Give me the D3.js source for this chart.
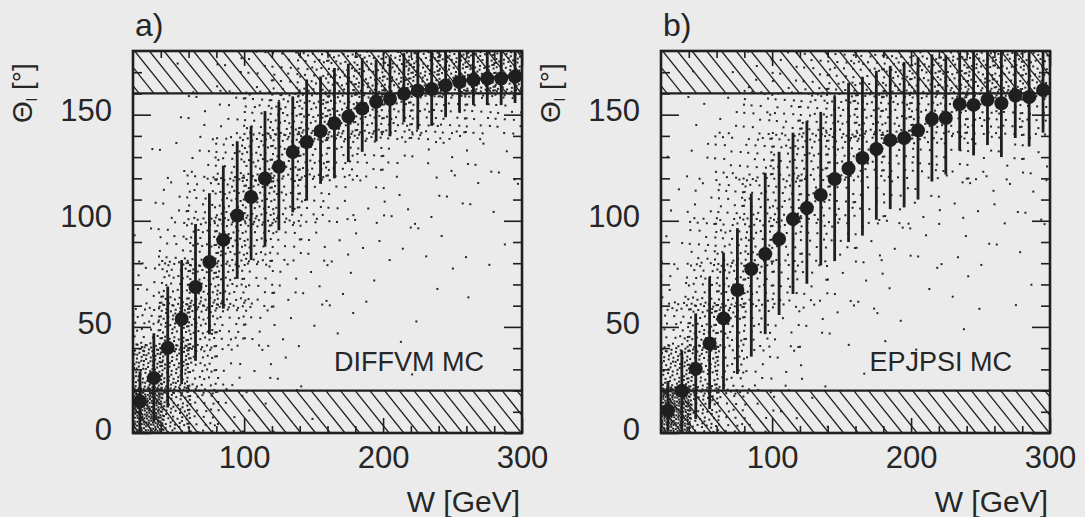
<!DOCTYPE html>
<html>
<head>
<meta charset="utf-8">
<script src="https://cdn.jsdelivr.net/npm/d3@7"></script>
<style>
  body { margin: 0; background: #ebebeb; }
  svg { display: block; font-family: "Liberation Sans", Arial, sans-serif; }
</style>
</head>
<body>
<div id="chart"></div>
<script>
//W bin centres of the profile points (GeV), same in both panels
var wBins = [25, 35, 45, 55, 65, 75, 85, 95, 105, 115, 125, 135, 145, 155,
             165, 175, 185, 195, 205, 215, 225, 235, 245, 255, 265, 275, 285, 295];

//panel a) DIFFVM MC : mean polar angle and the ends of the spread bar
var meanDiffvm = [14.8, 25.9, 40.2, 53.7, 68.8, 80.6, 91, 102.5, 111.2, 119.9, 125.4, 132.4, 137.1, 142.3,
                  145.9, 149.1, 152.9, 156.1, 157.4, 159.8, 161.3, 162.1, 163.8, 165.4, 166.4, 167, 167, 168];
var lowDiffvm = [0.5, 5, 12, 23, 34, 46.5, 58.6, 72.6, 81.5, 87.8, 95.5, 104, 109.5, 117.4,
                 120, 127.7, 132.5, 137.4, 139.8, 146.4, 143, 144.7, 148.8, 151, 154.5, 154.5, 154.5, 155.5];
var highDiffvm = [29, 47, 69, 81.5, 98.5, 113, 126, 137.5, 144.7, 151.7, 156, 158.6, 166.6, 168,
                  172, 174, 176.7, 176, 177, 179, 180, 180, 180, 180, 180, 180, 180, 180];

//panel b) EPJPSI MC
var meanEpjpsi = [10.6, 19.9, 30.2, 42.2, 54, 67.4, 77.3, 84.4, 91.4, 100.8, 106, 112.2, 119.7, 124.6,
                  129.6, 133.8, 138, 139, 142.6, 148, 148.4, 155, 154.6, 157, 155.4, 159, 158.3, 161.6];
var lowEpjpsi = [0.7, 0.7, 6.6, 11.3, 20.4, 27.8, 36, 46.6, 55.6, 65.5, 70.3, 79, 81, 90,
                 93, 100.5, 105.5, 106.3, 110, 118.5, 121.8, 133, 130.8, 135.7, 130, 139, 135, 141.5];
var highEpjpsi = [24.5, 39, 56.4, 73.6, 85, 96.5, 112.8, 122.6, 132.5, 141.5, 147, 151.3, 158.7, 165,
                  167.6, 170.7, 173, 174.8, 177, 178.4, 178, 179, 180, 180, 180, 180, 180, 180];

//event density, counted in 20 GeV x 20 deg cells
//cellW = left edge of each column, cellTheta = lower edge of each row
var cellW = [20, 40, 60, 80, 100, 120, 140, 160, 180, 200, 220, 240, 260, 280];
var cellTheta = [0, 20, 40, 60, 80, 100, 120, 140, 160];
var countsDiffvm = [
  [230, 80, 30, 8, 3, 1, 1, 0, 0, 0, 0, 0, 0, 0],
  [110, 90, 40, 12, 5, 2, 1, 1, 0, 1, 0, 0, 0, 0],
  [35, 75, 55, 25, 10, 4, 2, 2, 1, 1, 1, 0, 0, 0],
  [12, 40, 55, 40, 18, 8, 4, 3, 2, 1, 1, 1, 1, 0],
  [4, 18, 40, 50, 35, 16, 8, 5, 3, 2, 2, 2, 1, 1],
  [2, 8, 22, 45, 50, 35, 18, 10, 6, 4, 3, 3, 2, 2],
  [1, 4, 10, 25, 45, 50, 40, 28, 16, 10, 6, 5, 4, 4],
  [0, 2, 5, 12, 25, 42, 55, 55, 50, 40, 32, 25, 20, 18],
  [0, 1, 2, 5, 10, 20, 35, 50, 60, 70, 75, 80, 80, 75]
];
var countsEpjpsi = [
  [220, 70, 25, 8, 3, 1, 1, 0, 0, 0, 0, 0, 0, 0],
  [90, 75, 35, 12, 5, 2, 1, 1, 1, 0, 0, 0, 0, 0],
  [30, 55, 40, 22, 10, 5, 3, 2, 1, 1, 1, 1, 0, 0],
  [10, 32, 38, 30, 18, 10, 5, 4, 2, 2, 1, 1, 1, 1],
  [4, 18, 30, 32, 28, 18, 10, 7, 4, 3, 3, 2, 2, 2],
  [2, 10, 20, 28, 30, 28, 20, 14, 9, 6, 5, 4, 3, 3],
  [1, 6, 14, 24, 30, 34, 32, 28, 22, 16, 12, 9, 8, 7],
  [0, 3, 8, 15, 24, 30, 36, 40, 40, 38, 34, 30, 28, 26],
  [0, 1, 3, 6, 10, 15, 25, 33, 42, 48, 52, 55, 55, 52]
];

//axes
var wDomain = [20, 300];
var thetaDomain = [0, 180];
var xTickLabels = [100, 200, 300];
var xMinorTicks = [40, 60, 80, 120, 140, 160, 180, 220, 240, 260, 280];
var yTickLabels = [0, 50, 100, 150];
var yMinorTicks = [10, 20, 30, 40, 60, 70, 80, 90, 110, 120, 130, 140, 160, 170];

//hatched (cut away) angular regions
var cutBands = [[0, 20], [160, 180]];

var panelLabels = ["a)", "b)"];
var generatorNames = ["DIFFVM MC", "EPJPSI MC"];

//svg area and the two plot frames
var svgWidth = 1085;
var svgHeight = 517;
var panelLeft = [133, 661];
var plotTop = 51;
var plotWidth = 389;
var plotHeight = 382;
var ink = "#1f1f1f";

var svg = d3.select("#chart").append("svg")
    .attr("width", svgWidth)
    .attr("height", svgHeight);

var panels = [
    {mean: meanDiffvm, low: lowDiffvm, high: highDiffvm, counts: countsDiffvm},
    {mean: meanEpjpsi, low: lowEpjpsi, high: highEpjpsi, counts: countsEpjpsi}
];

//spread the counted events of one cell over the cell (quasi regular pattern)
function cellDots(n, cellIndex) {
    var dots = [];
    var seedU = (cellIndex * 0.6180339887) % 1;
    var seedV = (cellIndex * 0.4142135624 + 0.3) % 1;
    for (var k = 1; k <= n; k++) {
        dots.push({
            u: (seedU + k * 0.7548776662) % 1,
            v: (seedV + k * 0.5698402910) % 1
        });
    }
    return dots;
}

function drawPanel(p, i) {
    var left = panelLeft[i];
    var xScale = d3.scaleLinear().domain(wDomain).range([left, left + plotWidth]);
    var yScale = d3.scaleLinear().domain(thetaDomain).range([plotTop + plotHeight, plotTop]);

    var g = svg.append("g").attr("class", "panel" + i);

    //clip everything to the frame
    svg.append("clipPath").attr("id", "frame" + i)
        .append("rect")
        .attr("x", left).attr("y", plotTop)
        .attr("width", plotWidth).attr("height", plotHeight);

    var inner = g.append("g").attr("clip-path", `url(#frame${i})`);

    //hatched bands
    cutBands.forEach(function(band, b) {
        var y0 = yScale(band[1]), y1 = yScale(band[0]);
        var h = y1 - y0;
        var clipId = `band${i}_${b}`;
        svg.append("clipPath").attr("id", clipId)
            .append("rect")
            .attr("x", left).attr("y", y0)
            .attr("width", plotWidth).attr("height", h);
        var starts = d3.range(left - h, left + plotWidth + 15, 14.7);
        inner.append("g").attr("clip-path", `url(#${clipId})`)
            .selectAll("line")
            .data(starts)
            .enter().append("line")
            .attr("x1", d => d).attr("y1", y0)
            .attr("x2", d => d + h * 0.8).attr("y2", y1)
            .attr("stroke", ink).attr("stroke-width", 1.3);
        //boundary of the band
        var edge = band[0] === thetaDomain[0] ? band[1] : band[0];
        inner.append("line")
            .attr("x1", left).attr("x2", left + plotWidth)
            .attr("y1", yScale(edge)).attr("y2", yScale(edge))
            .attr("stroke", ink).attr("stroke-width", 2.2);
    });

    //scattered events
    var dots = [];
    p.counts.forEach(function(row, r) {
        row.forEach(function(n, c) {
            var wLo = cellW[c], tLo = cellTheta[r];
            cellDots(n, r * 14 + c + i * 200).forEach(function(d) {
                dots.push({w: wLo + (d.u * 1.16 - 0.08) * 20, t: tLo + (d.v * 1.16 - 0.08) * 20});
            });
        });
    });
    inner.append("g").selectAll("rect")
        .data(dots)
        .enter().append("rect")
        .attr("x", d => xScale(d.w) - 1)
        .attr("y", d => yScale(d.t) - 1)
        .attr("width", 2).attr("height", 2)
        .attr("fill", "#262626");

    //spread bars
    inner.append("g").selectAll("line")
        .data(wBins)
        .enter().append("line")
        .attr("x1", d => xScale(d)).attr("x2", d => xScale(d))
        .attr("y1", (d, j) => yScale(p.low[j]))
        .attr("y2", (d, j) => yScale(p.high[j]))
        .attr("stroke", ink).attr("stroke-width", 2.8);

    //mean points
    inner.append("g").selectAll("circle")
        .data(wBins)
        .enter().append("circle")
        .attr("cx", d => xScale(d))
        .attr("cy", (d, j) => yScale(p.mean[j]))
        .attr("r", 7)
        .attr("fill", ink);

    //axes, ticks pointing into the frame on all four sides
    var bottom = plotTop + plotHeight, right = left + plotWidth;
    var axes = [
        {ax: d3.axisBottom(xScale).tickValues(xTickLabels).tickSize(-15).tickPadding(13), at: `translate(0,${bottom})`, labels: true},
        {ax: d3.axisBottom(xScale).tickValues(xMinorTicks).tickSize(-7), at: `translate(0,${bottom})`},
        {ax: d3.axisTop(xScale).tickValues(xTickLabels).tickSize(-15), at: `translate(0,${plotTop})`},
        {ax: d3.axisTop(xScale).tickValues(xMinorTicks).tickSize(-7), at: `translate(0,${plotTop})`},
        {ax: d3.axisLeft(yScale).tickValues(yTickLabels).tickSize(-18).tickPadding(21), at: `translate(${left},0)`, labels: true},
        {ax: d3.axisLeft(yScale).tickValues(yMinorTicks).tickSize(-9), at: `translate(${left},0)`},
        {ax: d3.axisRight(yScale).tickValues(yTickLabels).tickSize(-18), at: `translate(${right},0)`},
        {ax: d3.axisRight(yScale).tickValues(yMinorTicks).tickSize(-9), at: `translate(${right},0)`}
    ];
    axes.forEach(function(a) {
        var ag = g.append("g").attr("transform", a.at).call(a.ax);
        ag.select(".domain").remove();
        ag.selectAll("line").attr("stroke", ink).attr("stroke-width", 1.6);
        if (a.labels) {
            ag.selectAll("text").attr("fill", "#262626").style("font-size", "31px")
                .style("font-family", '"Liberation Sans", Arial, sans-serif');
        } else {
            ag.selectAll("text").remove();
        }
    });
    //nudge y labels a little upward
    g.selectAll("text").filter(function() { return this.getAttribute("dy") === "0.32em"; })
        .attr("dy", "0.2em");

    //frame
    g.append("rect")
        .attr("x", left).attr("y", plotTop)
        .attr("width", plotWidth).attr("height", plotHeight)
        .attr("fill", "none").attr("stroke", ink).attr("stroke-width", 2.6);

    //texts
    g.append("text")
        .attr("x", left + 2).attr("y", 36)
        .style("font-size", "32px").attr("fill", "#262626")
        .text(panelLabels[i]);

    g.append("text")
        .attr("x", right - 38).attr("y", 371)
        .attr("text-anchor", "end")
        .style("font-size", "27px").attr("fill", "#262626")
        .text(generatorNames[i]);

    g.append("text")
        .attr("x", right - 2).attr("y", 512)
        .attr("text-anchor", "end")
        .style("font-size", "30px").attr("fill", "#262626")
        .text("W [GeV]");

    var yTitle = g.append("text")
        .attr("transform", `translate(${left - 101},123) rotate(-90)`)
        .style("font-size", "28px").attr("fill", "#262626");
    yTitle.append("tspan").text("\u0398");
    yTitle.append("tspan").attr("dy", 5).style("font-size", "15px").text("l");
    yTitle.append("tspan").attr("dy", -5).text(" [\u00b0]");
}

panels.forEach(drawPanel);
</script>
</body>
</html>
